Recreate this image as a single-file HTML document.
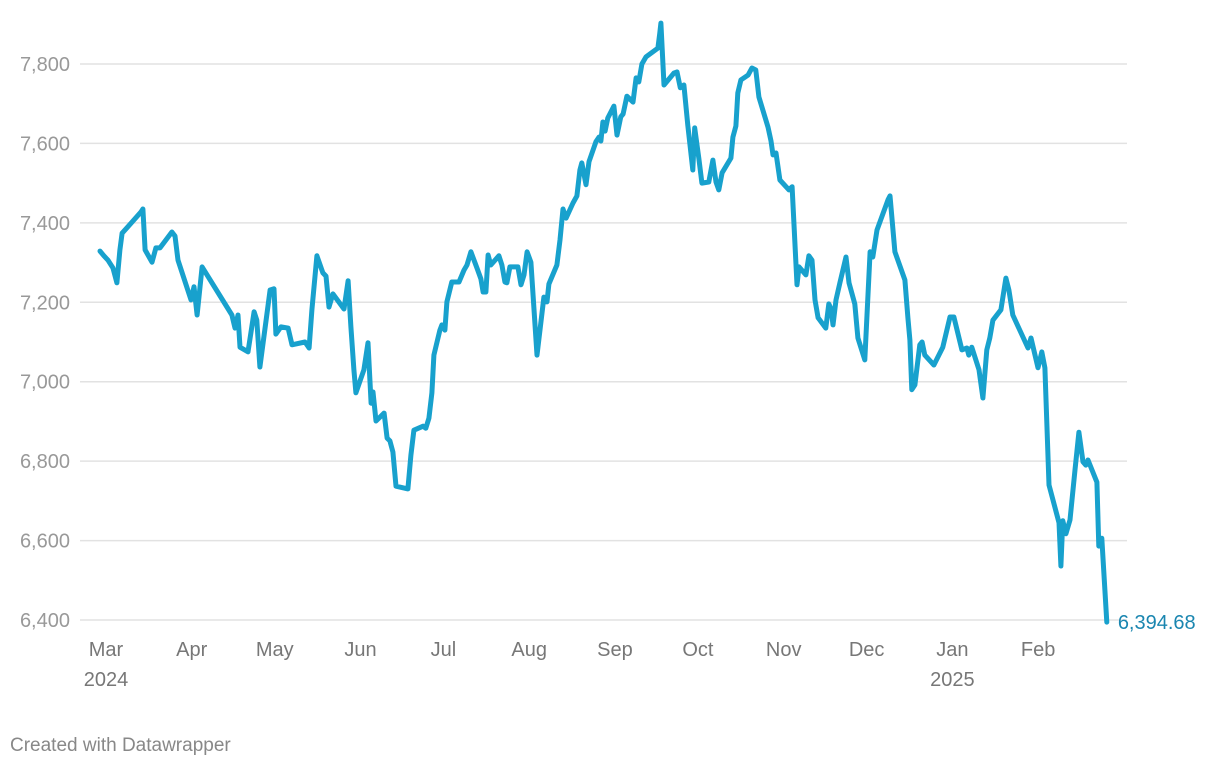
<!DOCTYPE html>
<html><head><meta charset="utf-8">
<style>
html,body{margin:0;padding:0;background:#fff;}
body{width:1220px;height:768px;overflow:hidden;font-family:"Liberation Sans",sans-serif;}
svg text{font-family:"Liberation Sans",sans-serif;}
</style></head>
<body>
<svg id="chart" width="1220" height="768" xmlns="http://www.w3.org/2000/svg">
<g id="grid"></g>
<g id="yaxis"></g>
<g id="xaxis"></g>
<g id="series"></g>
<text x="10" y="751" font-size="19" fill="#888">Created with Datawrapper</text>
</svg>
<script>
const yTicks=[6400,6600,6800,7000,7200,7400,7600,7800];
const yTickLabels=["6,400","6,600","6,800","7,000","7,200","7,400","7,600","7,800"];
const monthDays=[0,31,61,92,122,153,184,214,245,275,306,337];
const monthLabels=["Mar","Apr","May","Jun","Jul","Aug","Sep","Oct","Nov","Dec","Jan","Feb"];
const yearLabels=["2024","","","","","","","","","","2025",""];
const days=[0,1.4,2.9,4.7,6.1,7.2,8.0,14.8,15.5,16.3,18.8,20.2,21.7,26.0,27.1,28.2,32.9,34.0,35.1,36.9,47.7,48.8,49.9,50.6,53.5,55.7,56.7,57.8,61.5,62.9,63.6,65.4,68.0,69.4,74.1,75.6,76.6,78.4,80.6,81.7,82.8,84.2,88.2,89.7,90.7,91.8,92.5,95.4,96.9,98.0,98.7,99.8,102.7,103.8,104.8,105.9,107.0,111.3,112.4,113.5,116.8,117.8,118.9,120.0,120.7,122.9,123.6,124.7,125.4,127.2,129.8,131.6,132.7,134.1,136.3,137.7,138.5,139.5,140.3,141.3,144.2,145.3,146.4,147.1,148.2,151.1,152.2,153.3,154.4,155.8,158.0,160.5,161.6,162.3,165.2,166.3,167.4,168.5,171.0,172.4,173.5,174.2,175.7,176.8,179.3,180.4,181.1,181.8,182.6,183.6,185.8,186.9,188.3,189.1,190.5,192.7,193.8,194.8,195.9,197.4,201.7,202.4,202.8,203.9,207.5,208.6,209.8,211.1,212.5,214.3,215.0,216.5,217.6,220.1,221.6,222.7,223.7,224.9,228.1,228.8,229.9,230.6,231.7,234.3,235.7,237.1,238.2,241.5,242.6,243.3,244.4,245.8,249.1,250.2,250.9,252.0,252.7,255.2,256.3,257.4,258.5,259.6,262.4,263.5,264.3,265.0,266.1,267.5,269.7,270.8,272.9,274.0,276.5,278.4,279.4,280.9,284.9,285.6,287.4,291.0,292.1,292.8,293.5,294.6,296.4,297.2,298.2,301.5,304.7,307.3,308.7,311.6,313.4,314.1,315.2,317.8,319.2,320.6,321.7,322.8,325.7,327.5,328.6,330.0,335.5,336.6,339.1,340.5,341.6,343.1,346.7,347.4,348.1,349.2,350.7,352.5,353.9,355.4,356.4,357.2,360.4,361.1,362.2,363.3,364.0];
const values=[7329,7317,7306,7286,7249,7332,7374,7427,7435,7332,7301,7337,7337,7377,7367,7306,7206,7239,7168,7289,7168,7135,7168,7087,7075,7176,7155,7037,7231,7234,7120,7138,7135,7093,7100,7085,7181,7317,7274,7266,7188,7221,7183,7254,7138,7030,6972,7030,7098,6946,6974,6901,6921,6858,6851,6823,6737,6730,6815,6878,6888,6883,6908,6972,7067,7130,7143,7130,7201,7251,7251,7281,7294,7327,7286,7259,7226,7226,7319,7294,7317,7294,7251,7249,7289,7289,7244,7269,7327,7301,7067,7213,7201,7246,7294,7357,7435,7412,7450,7468,7533,7551,7496,7554,7604,7616,7606,7654,7631,7664,7694,7621,7667,7674,7719,7704,7765,7755,7800,7818,7840,7878,7903,7747,7777,7780,7740,7747,7646,7533,7639,7563,7500,7503,7558,7503,7483,7526,7563,7616,7644,7727,7760,7772,7790,7785,7717,7641,7606,7571,7576,7508,7483,7491,7395,7244,7289,7269,7317,7306,7206,7161,7135,7196,7183,7143,7206,7249,7314,7249,7196,7110,7055,7327,7314,7382,7458,7468,7327,7256,7161,7105,6980,6992,7093,7100,7067,7042,7087,7163,7163,7080,7085,7067,7087,7030,6959,7080,7110,7155,7181,7261,7231,7168,7085,7110,7035,7075,7035,6740,6645,6536,6650,6617,6652,6778,6873,6798,6790,6803,6747,6586,6606,6475,6394.68];
const endLabel="6,394.68";
const NS="http://www.w3.org/2000/svg";
function xScale(d){return 100+d*2.766;}
function yScale(v){return 620-(v-6400)*556/1400;}
function mk(tag,attrs,parent,txt){const e=document.createElementNS(NS,tag);for(const k in attrs)e.setAttribute(k,attrs[k]);if(txt!==undefined)e.textContent=txt;parent.appendChild(e);return e;}
const grid=document.getElementById('grid'),ya=document.getElementById('yaxis'),xa=document.getElementById('xaxis'),se=document.getElementById('series');
yTicks.forEach((t,i)=>{
  const l=mk('line',{x1:80,x2:1127,y1:yScale(t),y2:yScale(t),stroke:'#e2e2e2','stroke-width':1.5},grid);
  
  
  const tx=mk('text',{x:70,y:yScale(t)+7,'text-anchor':'end','font-size':20,fill:'#999'},ya,yTickLabels[i]);
  
  
});
monthDays.forEach((d,i)=>{
  const tx=mk('text',{x:xScale(d)+6,y:656,'text-anchor':'middle','font-size':20,fill:'#777'},xa,monthLabels[i]);
  
  
  if(yearLabels[i]){
    const yt=mk('text',{x:xScale(d)+6,y:686,'text-anchor':'middle','font-size':20,fill:'#777'},xa,yearLabels[i]);
    
    
  }
});
const pts=days.map((d,i)=>xScale(d).toFixed(1)+','+yScale(values[i]).toFixed(1)).join(' ');
const line=mk('polyline',{points:pts,fill:'none',stroke:'#18a1cd','stroke-width':5,'stroke-linejoin':'round','stroke-linecap':'round'},se);


const last=days.length-1;
const el=mk('text',{x:xScale(days[last])+11,y:yScale(values[last])+7,'font-size':20,fill:'#1a86b0'},se,endLabel);


</script>
</body></html>
